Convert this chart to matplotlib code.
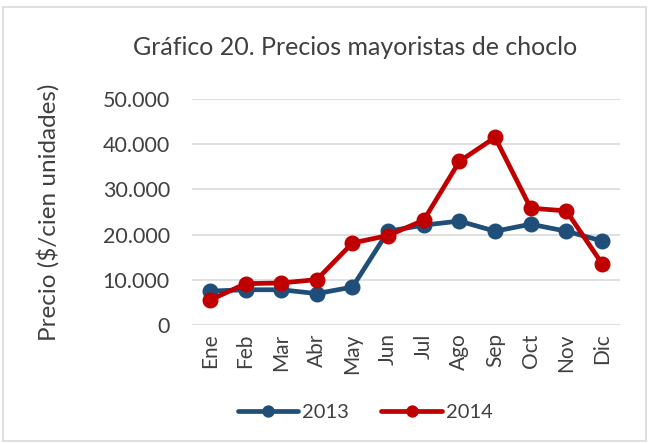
import matplotlib.pyplot as plt
from matplotlib.patches import Rectangle
from matplotlib.ticker import FuncFormatter

# Datos
meses = ['Ene', 'Feb', 'Mar', 'Abr', 'May', 'Jun', 'Jul', 'Ago', 'Sep', 'Oct', 'Nov', 'Dic']
precios_2013 = [7500, 7800, 7800, 6950, 8400, 20750, 22100, 23000, 20750, 22300, 20750, 18600]
precios_2014 = [5500, 9150, 9300, 10050, 18150, 19800, 23200, 36200, 41500, 25850, 25250, 13600]

plt.rcParams['font.family'] = ['Lato', 'DejaVu Sans']

fig = plt.figure(figsize=(6.49, 4.44), dpi=100)
ax = fig.add_axes([0.296, 0.268, 0.659, 0.509])

x = range(len(meses))
ax.plot(x, precios_2013, color='#1F4E79', lw=3.4, marker='o', ms=10.5, label='2013', solid_capstyle='round')
ax.plot(x, precios_2014, color='#C00000', lw=3.4, marker='o', ms=10.5, label='2014', solid_capstyle='round')

ax.set_xlim(-0.5, len(meses) - 0.5)
ax.set_ylim(0, 50000)
ax.set_yticks(range(0, 50001, 10000))
ax.yaxis.set_major_formatter(FuncFormatter(lambda v, p: f'{int(v):,}'.replace(',', '.')))
ax.set_xticks(list(x))
ax.set_xticklabels(meses, rotation=90)
ax.grid(axis='y', color='#D9D9D9', lw=1.2)
ax.set_axisbelow(True)
for s in ax.spines.values():
    s.set_visible(False)
ax.tick_params(axis='x', length=0, labelsize=15, colors='#404040', pad=6)
ax.tick_params(axis='y', length=0, labelsize=15.5, colors='#404040', pad=16)

ax.set_ylabel('Precio ($/cien unidades)', fontsize=17.5, color='#404040', labelpad=31)
fig.text(0.547, 0.892, 'Gráfico 20. Precios mayoristas de choclo', fontsize=18, color='#404040',
         ha='center', va='center')

ax.legend(loc='center', bbox_to_anchor=(0.405, -0.385), ncol=2, frameon=False,
          fontsize=14.5, labelcolor='#404040', handlelength=3.0, columnspacing=1.6,
          handletextpad=0.2, markerscale=0.75)

fig.patches.append(Rectangle((0.005, 0.007), 0.99, 0.977, transform=fig.transFigure,
                             fill=False, edgecolor='#D9D9D9', lw=1.2))

fig.savefig('out.png', dpi=100)
